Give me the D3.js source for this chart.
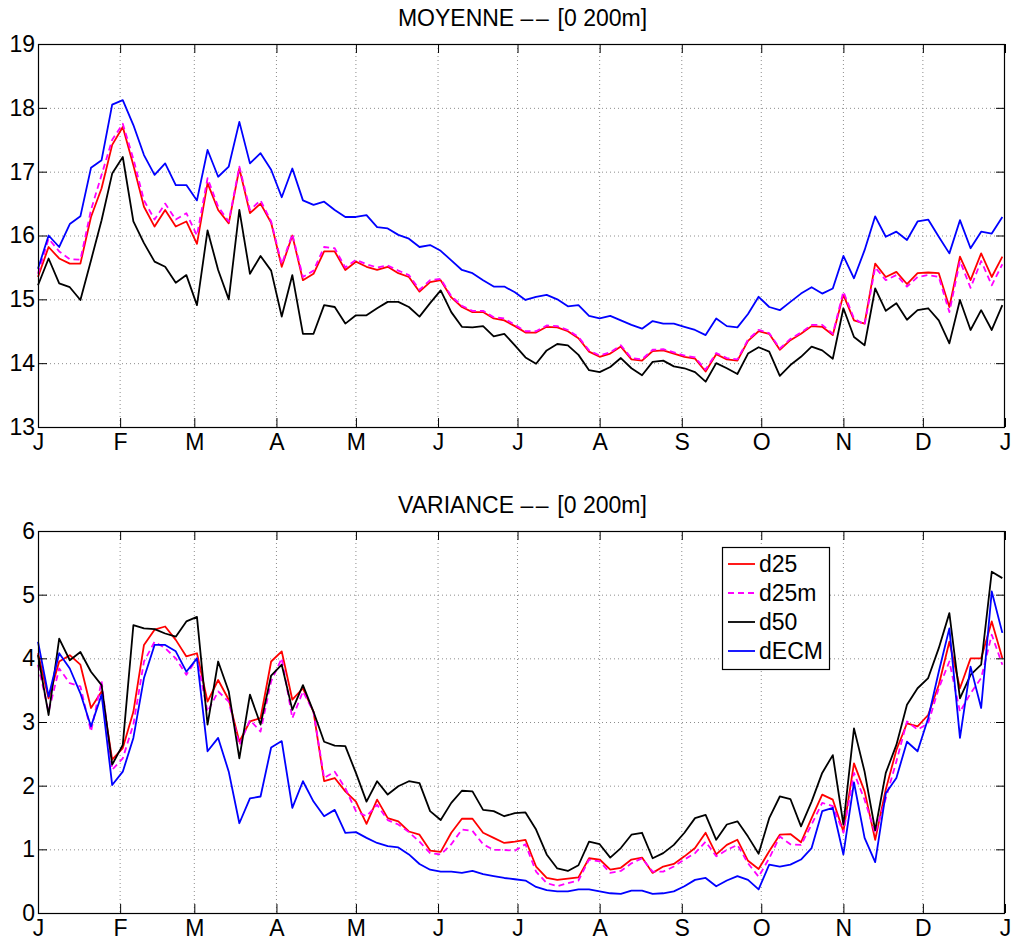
<!DOCTYPE html>
<html>
<head>
<meta charset="utf-8">
<script src="https://cdn.jsdelivr.net/npm/d3@7"></script>
<style>
  body { margin: 0; background: #ffffff; }
  text { font-family: "Liberation Sans", Arial, Helvetica, sans-serif; fill: #000; }
</style>
</head>
<body>
<svg id="fig" width="1015" height="942"></svg>
<script>
// Sampling days (day of year) shared by every series
const days = [0,4,8,12,16,20,24,28,32,36,40,44,48,52,56,60,64,68,72,76,80,84,88,
  92,96,100,104,108,112,116,120,124,128,132,136,140,144,148,152,156,160,164,168,172,176,180,
  184,188,192,196,200,204,208,212,216,220,224,228,232,236,240,244,248,252,256,260,264,268,272,
  276,280,284,288,292,296,300,304,308,312,316,320,324,328,332,336,340,344,348,352,356,360,364];

// Month ticks
const monthStarts = [0,31,59,90,120,151,181,212,243,273,304,334,365];
const monthLabels = ["J","F","M","A","M","J","J","A","S","O","N","D","J"];

// Mean temperature, 0-200 m
const meanD25 = [15.35,15.82,15.64,15.56,15.56,16.29,16.74,17.42,17.7,17.1,16.45,16.14,16.4,16.14,16.22,15.87,16.82,16.4,16.19,17.05,16.35,16.5,16.2,
  15.51,16.0,15.3,15.4,15.75,15.75,15.46,15.59,15.51,15.46,15.51,15.41,15.35,15.12,15.27,15.3,15.03,14.88,14.8,14.8,14.7,14.67,14.58,
  14.48,14.48,14.57,14.56,14.5,14.39,14.18,14.1,14.15,14.26,14.06,14.04,14.19,14.2,14.15,14.1,14.07,13.87,14.14,14.06,14.04,14.35,14.5,
  14.46,14.21,14.36,14.46,14.58,14.57,14.44,15.07,14.67,14.62,15.56,15.35,15.43,15.24,15.41,15.42,15.41,14.88,15.67,15.3,15.72,15.35,15.67];
const meanD25m = [15.4,15.95,15.75,15.63,15.62,16.4,16.95,17.5,17.75,17.2,16.55,16.25,16.5,16.25,16.35,16.0,16.9,16.45,16.22,17.08,16.4,16.55,16.22,
  15.55,16.02,15.35,15.45,15.82,15.8,15.5,15.62,15.55,15.5,15.53,15.45,15.38,15.15,15.3,15.32,15.05,14.9,14.82,14.82,14.72,14.7,14.6,
  14.5,14.5,14.59,14.58,14.52,14.41,14.2,14.12,14.17,14.28,14.08,14.06,14.21,14.22,14.17,14.12,14.09,13.9,14.16,14.08,14.06,14.37,14.52,
  14.47,14.23,14.38,14.48,14.6,14.6,14.46,15.12,14.7,14.6,15.5,15.3,15.38,15.2,15.35,15.38,15.35,14.8,15.6,15.18,15.6,15.22,15.55];
const meanD50 = [15.22,15.64,15.25,15.19,14.99,15.61,16.24,16.97,17.23,16.22,15.88,15.59,15.51,15.26,15.38,14.91,16.08,15.46,15.0,16.4,15.4,15.68,15.45,
  14.73,15.38,14.46,14.46,14.91,14.88,14.62,14.75,14.75,14.86,14.96,14.96,14.88,14.73,14.94,15.14,14.8,14.57,14.56,14.58,14.42,14.46,14.28,
  14.09,13.99,14.2,14.3,14.28,14.13,13.89,13.86,13.94,14.08,13.92,13.81,14.02,14.04,13.95,13.92,13.86,13.71,14.0,13.92,13.83,14.15,14.25,
  14.18,13.8,13.97,14.1,14.26,14.2,14.07,14.86,14.41,14.28,15.17,14.82,14.94,14.68,14.83,14.86,14.67,14.31,14.99,14.52,14.83,14.52,14.91];
const meanDECM = [15.48,16.0,15.82,16.18,16.3,17.06,17.18,18.05,18.12,17.73,17.26,16.95,17.13,16.79,16.79,16.55,17.34,16.92,17.08,17.78,17.13,17.29,17.03,
  16.6,17.05,16.55,16.48,16.53,16.4,16.29,16.29,16.32,16.13,16.11,16.01,15.95,15.82,15.85,15.76,15.61,15.46,15.41,15.3,15.2,15.2,15.11,
  14.99,15.04,15.07,15.0,14.89,14.91,14.74,14.7,14.74,14.67,14.6,14.54,14.66,14.62,14.62,14.57,14.52,14.44,14.7,14.58,14.56,14.77,15.04,
  14.88,14.83,14.96,15.09,15.19,15.09,15.17,15.68,15.33,15.77,16.3,15.98,16.06,15.93,16.22,16.25,15.98,15.72,16.24,15.8,16.06,16.03,16.29];

// Variance, 0-200 m
const varD25 = [4.08,3.37,3.95,4.05,3.9,3.22,3.48,2.41,2.59,3.16,4.21,4.45,4.5,4.29,4.03,4.08,3.32,3.66,3.35,2.69,3.01,3.06,3.95,
  4.11,3.35,3.53,3.16,2.07,2.12,1.91,1.75,1.4,1.78,1.49,1.44,1.28,1.23,0.98,0.96,1.26,1.48,1.48,1.26,1.18,1.1,1.12,
  1.15,0.73,0.55,0.52,0.54,0.56,0.86,0.84,0.68,0.71,0.84,0.87,0.63,0.73,0.77,0.89,1.02,1.26,0.92,1.07,1.15,0.82,0.69,
  0.97,1.23,1.24,1.11,1.49,1.86,1.78,1.28,2.35,1.91,1.15,1.94,2.56,2.98,2.93,3.11,3.58,4.26,3.53,4.0,4.0,4.58,4.0];
const varD25m = [3.9,3.16,3.84,3.61,3.56,2.85,3.64,2.25,2.43,2.96,3.95,4.26,4.16,4.0,3.74,4.0,3.16,3.48,3.32,2.64,3.03,2.85,3.64,
  4.0,3.06,3.48,3.16,2.12,2.22,1.96,1.6,1.52,1.7,1.46,1.39,1.27,1.12,0.94,0.92,1.08,1.31,1.29,1.08,0.99,0.99,0.98,
  1.08,0.65,0.47,0.42,0.47,0.51,0.84,0.81,0.63,0.66,0.78,0.86,0.65,0.65,0.73,0.84,0.94,1.12,0.89,0.99,1.07,0.78,0.57,
  0.86,1.2,1.08,1.07,1.39,1.73,1.68,1.26,2.2,1.78,1.25,1.8,2.38,3.01,2.88,2.98,3.53,3.95,3.16,3.45,3.69,4.37,3.9];
const varD50 = [4.05,3.11,4.31,3.97,4.1,3.79,3.58,2.33,2.64,4.52,4.47,4.46,4.39,4.34,4.58,4.65,2.96,3.95,3.48,2.43,3.43,2.96,3.73,
  3.9,3.19,3.58,3.16,2.69,2.63,2.62,2.2,1.75,2.07,1.86,1.99,2.07,2.04,1.6,1.46,1.73,1.92,1.91,1.62,1.6,1.52,1.57,
  1.58,1.31,0.92,0.7,0.66,0.75,1.12,1.08,0.87,1.02,1.23,1.26,0.86,0.94,1.07,1.26,1.49,1.54,1.15,1.39,1.44,1.2,0.93,
  1.49,1.83,1.79,1.36,1.75,2.2,2.48,1.39,2.9,2.22,1.3,2.2,2.64,3.27,3.53,3.69,4.16,4.71,3.37,3.74,3.9,5.36,5.26];
const varDECM = [4.26,3.4,4.08,3.84,3.45,2.93,3.43,2.01,2.22,2.75,3.69,4.21,4.21,4.11,3.79,4.0,2.54,2.75,2.22,1.41,1.8,1.83,2.6,
  2.7,1.65,2.07,1.75,1.52,1.62,1.26,1.27,1.18,1.1,1.05,1.03,0.92,0.77,0.68,0.65,0.65,0.63,0.66,0.61,0.58,0.55,0.53,
  0.51,0.41,0.36,0.34,0.34,0.37,0.37,0.34,0.31,0.3,0.35,0.35,0.3,0.31,0.34,0.42,0.52,0.55,0.42,0.51,0.58,0.52,0.37,
  0.76,0.73,0.76,0.84,1.02,1.6,1.65,0.92,2.05,1.18,0.8,1.88,2.12,2.69,2.54,3.06,3.79,4.47,2.75,3.87,3.22,5.05,4.4];

const seriesNames = ["d25","d25m","d50","dECM"];
const seriesColors = ["#ff0000","#ff00ff","#000000","#0000ff"];
const seriesDash = [null,"6,4",null,null];

const meanTicks = [13,14,15,16,17,18,19];
const varTicks = [0,1,2,3,4,5,6];

const svg = d3.select("#fig");
const left = 38, right = 1005;
const x = d3.scaleLinear().domain([0,365]).range([left,right]);
const FONT = 23, TICK = 9;

function panel(top, bottom, yDomain, yTicks, titleParts, seriesList, withLegend) {
  const y = d3.scaleLinear().domain(yDomain).range([bottom, top]);
  const g = svg.append("g");

  // dotted grid
  g.append("g").selectAll("line").data(monthStarts.slice(1,-1)).join("line")
    .attr("x1", d => x(d)).attr("x2", d => x(d)).attr("y1", top).attr("y2", bottom)
    .attr("stroke","#8c8c8c").attr("stroke-width",1).attr("stroke-dasharray","1,3");
  g.append("g").selectAll("line").data(yTicks.slice(1,-1)).join("line")
    .attr("x1", left).attr("x2", right).attr("y1", d => y(d)+0.5).attr("y2", d => y(d)+0.5)
    .attr("stroke","#8c8c8c").attr("stroke-width",1).attr("stroke-dasharray","1,3");

  // series
  const line = d3.line().x((d,i) => x(days[i])).y(d => y(d));
  seriesList.forEach((vals,k) => {
    g.append("path").datum(vals)
      .attr("d", line)
      .attr("fill","none")
      .attr("stroke", seriesColors[k])
      .attr("stroke-width", 1.8)
      .attr("stroke-linejoin","round")
      .attr("stroke-dasharray", seriesDash[k]);
  });

  // axes: ticks inward on all four sides
  const axB = d3.axisBottom(x).tickValues(monthStarts).tickFormat((d,i) => monthLabels[i])
    .tickSizeInner(-TICK).tickSizeOuter(0).tickPadding(7);
  const axT = d3.axisTop(x).tickValues(monthStarts).tickFormat("")
    .tickSizeInner(-TICK).tickSizeOuter(0);
  const axL = d3.axisLeft(y).tickValues(yTicks).tickFormat(d3.format("d"))
    .tickSizeInner(-TICK).tickSizeOuter(0).tickPadding(3);
  const axR = d3.axisRight(y).tickValues(yTicks).tickFormat("")
    .tickSizeInner(-TICK).tickSizeOuter(0);

  [[axB,`translate(0,${bottom})`],[axT,`translate(0,${top})`],
   [axL,`translate(${left},0)`],[axR,`translate(${right},0)`]].forEach(([ax,tr]) => {
    const a = g.append("g").attr("transform", tr).call(ax);
    a.select(".domain").remove();
    a.selectAll("line").attr("stroke","#000");
    a.selectAll("text").style("font-size", FONT + "px").style("font-family","Liberation Sans, Arial, sans-serif").attr("fill","#000");
  });

  g.append("rect").attr("x",left+0.5).attr("y",top+0.5).attr("width",right-left-1).attr("height",bottom-top)
    .attr("fill","none").attr("stroke","#000").attr("stroke-width",1.2);

  // title: the pair of dashes is spaced apart so they read as two marks
  const t = g.append("text").attr("x",(left+right)/2 + 1).attr("y",top-18)
    .attr("text-anchor","middle").style("font-size", FONT + "px");
  t.append("tspan").text(titleParts[0]);
  t.append("tspan").style("letter-spacing","2.5px").text(titleParts[1]);
  t.append("tspan").text(titleParts[2]);

  if (withLegend) {
    const lx = 722, ly = 547, lw = 107, lh = 122;
    const lg = g.append("g");
    lg.append("rect").attr("x",lx+0.5).attr("y",ly+0.5).attr("width",lw).attr("height",lh)
      .attr("fill","#fff").attr("stroke","#000").attr("stroke-width",1.2);
    seriesNames.forEach((name,k) => {
      const cy = ly + 17 + k*29;
      lg.append("line").attr("x1",lx+6).attr("x2",lx+33).attr("y1",cy).attr("y2",cy)
        .attr("stroke",seriesColors[k]).attr("stroke-width",1.8).attr("stroke-dasharray",seriesDash[k]);
      lg.append("text").attr("x",lx+37).attr("y",cy+8).style("font-size",FONT+"px").text(name);
    });
  }
}

panel(44, 427, [13,19], meanTicks, ["MOYENNE ", "\u2013\u2013", " [0 200m]"], [meanD25, meanD25m, meanD50, meanDECM], false);
panel(531, 913, [0,6], varTicks, ["VARIANCE ", "\u2013\u2013", " [0 200m]"], [varD25, varD25m, varD50, varDECM], true);
</script>
</body>
</html>
